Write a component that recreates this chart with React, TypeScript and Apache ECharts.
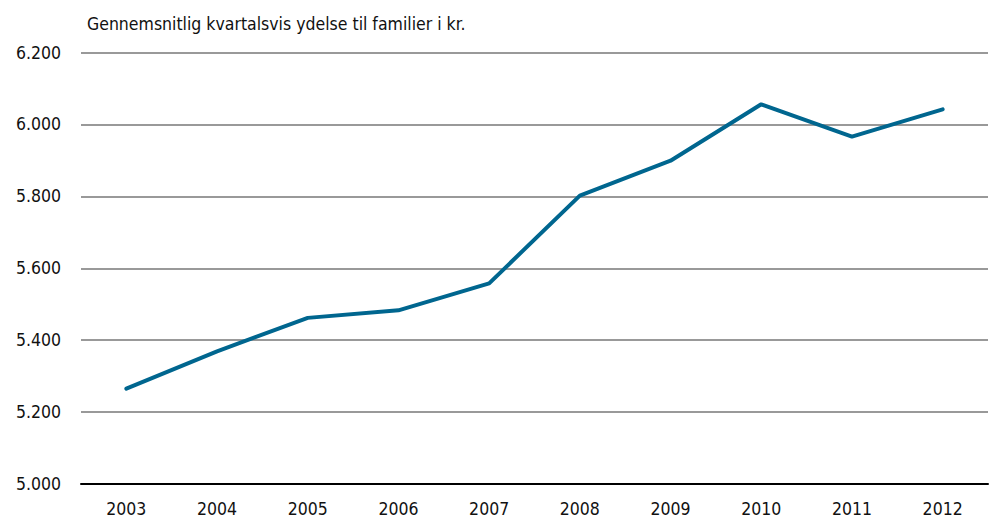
import React, { useEffect, useRef } from "react";
import * as echarts from "echarts";

const years = ["2003", "2004", "2005", "2006", "2007", "2008", "2009", "2010", "2011", "2012"];
const values = [5265, 5369, 5462, 5483, 5558, 5802, 5899, 6056, 5966, 6042];
const titleText = "Gennemsnitlig kvartalsvis ydelse til familier i kr.";

const FONT = "'Liberation Sans Narrow', 'DejaVu Sans Condensed', 'Roboto Condensed', sans-serif";

export default function App() {
  const ref = useRef<HTMLDivElement>(null);
  useEffect(() => {
    if (!ref.current) return;
    const chart = echarts.init(ref.current, null, { renderer: "svg" });
    chart.setOption({
      animation: false,
      backgroundColor: "#ffffff",
      title: {
        text: titleText,
        left: 82,
        top: 10,
        textStyle: { fontFamily: FONT, fontSize: 17.5, fontWeight: "normal", color: "#111" },
      },
      grid: { left: 81, right: 9, top: 52.5, bottom: 41, containLabel: false },
      xAxis: {
        type: "category",
        data: years,
        boundaryGap: true,
        axisLine: { show: true, lineStyle: { color: "#000", width: 2 } },
        axisTick: { show: false },
        axisLabel: { fontFamily: FONT, fontSize: 17.5, color: "#111", margin: 16 },
      },
      yAxis: {
        type: "value",
        min: 5000,
        max: 6200,
        interval: 200,
        axisLine: { show: false },
        axisTick: { show: false },
        splitLine: { show: true, lineStyle: { color: "#999", width: 2 } },
        axisLabel: {
          fontFamily: FONT,
          fontSize: 17.5,
          color: "#111",
          margin: 20,
          formatter: (v: number) => v.toLocaleString("de-DE").replace(",", "."),
        },
      },
      series: [
        {
          type: "line",
          data: values,
          symbol: "none",
          lineStyle: { color: "#00668f", width: 4, cap: "round" },
        },
      ],
    });
    return () => chart.dispose();
  }, []);
  return <div ref={ref} style={{ width: 997, height: 525, position: "absolute", left: 0, top: 0 }} />;
}
